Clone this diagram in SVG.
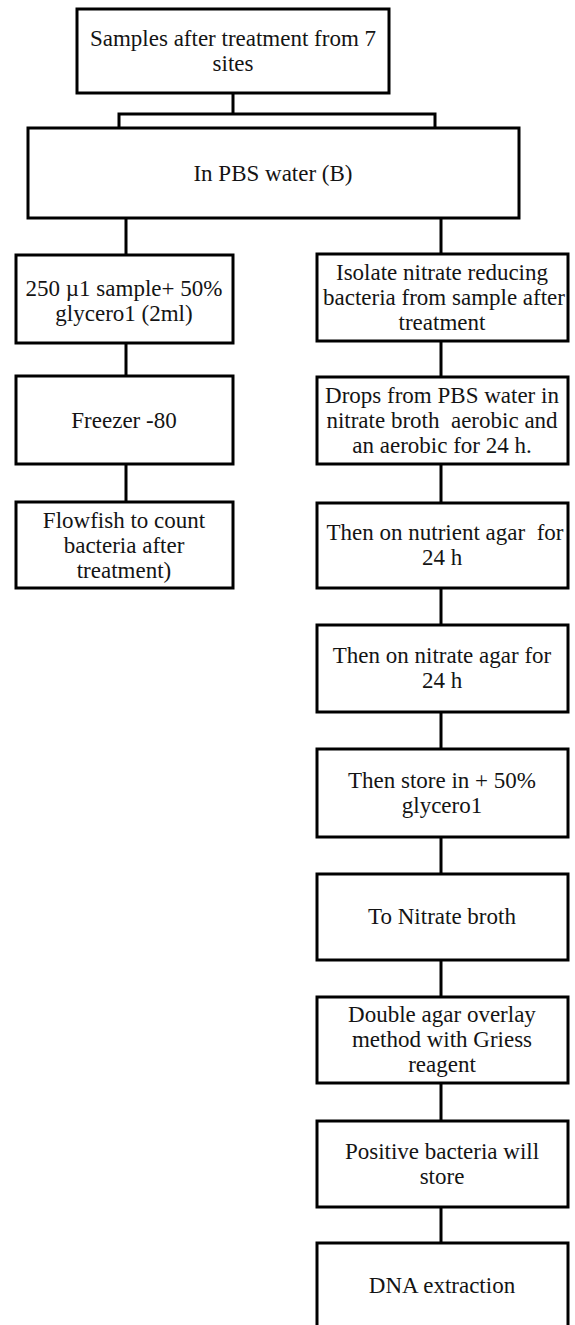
<svg xmlns="http://www.w3.org/2000/svg" width="575" height="1325" viewBox="0 0 575 1325">
<style>
.box{fill:#fff;stroke:#000;stroke-width:3}
.conn{stroke:#000;stroke-width:3;fill:none}
.t{font-family:"Liberation Serif","Times New Roman",serif;font-size:23px;text-anchor:middle;fill:#141414}
</style>
<rect width="575" height="1325" fill="#fff"/>
<g id="connectors">
<path class="conn" d="M233,93V114M119,128V114H435V128"/>
<path class="conn" d="M126,218V255M441,218V254"/>
<path class="conn" d="M126,343V376M126,464V502"/>
<path class="conn" d="M441,341V377M441,464V503M441,588V625M441,712V749M441,837V874M441,960V997M441,1083V1121M441,1207V1243"/>
</g>
<g id="n-samples"><rect class="box" x="77" y="9" width="312" height="84"/>
<text class="t" x="233" y="46">Samples after treatment from 7</text><text class="t" x="233" y="71">sites</text></g>
<g id="n-pbs"><rect class="box" x="28" y="128" width="491" height="90"/>
<text class="t" x="273" y="181">In PBS water (B)</text></g>
<g id="n-glycerol"><rect class="box" x="16" y="255" width="217" height="88"/>
<text class="t" x="124" y="296">250 µ1 sample+ 50%</text><text class="t" x="124" y="321">glycero1 (2ml)</text></g>
<g id="n-freezer"><rect class="box" x="16" y="376" width="217" height="88"/>
<text class="t" x="124" y="428">Freezer -80</text></g>
<g id="n-flowfish"><rect class="box" x="16" y="502" width="217" height="86"/>
<text class="t" x="124" y="528">Flowfish to count</text><text class="t" x="124" y="553">bacteria after</text><text class="t" x="124" y="578">treatment)</text></g>
<g id="n-isolate"><rect class="box" x="317" y="254" width="251" height="87"/>
<text class="t" x="442" y="280">Isolate nitrate reducing</text><text class="t" x="444" y="305">bacteria from sample after</text><text class="t" x="442" y="330">treatment</text></g>
<g id="n-drops"><rect class="box" x="317" y="377" width="251" height="87"/>
<text class="t" x="442" y="403">Drops from PBS water in</text><text class="t" x="442" y="428" xml:space="preserve">nitrate broth  aerobic and</text><text class="t" x="442" y="453">an aerobic for 24 h.</text></g>
<g id="n-nutrient"><rect class="box" x="317" y="503" width="251" height="85"/>
<text class="t" x="445" y="540" xml:space="preserve">Then on nutrient agar  for</text><text class="t" x="442" y="565">24 h</text></g>
<g id="n-nitrate-agar"><rect class="box" x="317" y="625" width="251" height="87"/>
<text class="t" x="442" y="663">Then on nitrate agar for</text><text class="t" x="442" y="688">24 h</text></g>
<g id="n-store"><rect class="box" x="317" y="749" width="251" height="88"/>
<text class="t" x="442" y="788">Then store in + 50%</text><text class="t" x="442" y="813">glycero1</text></g>
<g id="n-broth"><rect class="box" x="317" y="874" width="251" height="86"/>
<text class="t" x="442" y="924">To Nitrate broth</text></g>
<g id="n-double"><rect class="box" x="317" y="997" width="251" height="86"/>
<text class="t" x="442" y="1022">Double agar overlay</text><text class="t" x="442" y="1047">method with Griess</text><text class="t" x="442" y="1072">reagent</text></g>
<g id="n-positive"><rect class="box" x="317" y="1121" width="251" height="86"/>
<text class="t" x="442" y="1159">Positive bacteria will</text><text class="t" x="442" y="1184">store</text></g>
<g id="n-dna"><rect class="box" x="317" y="1243" width="251" height="100"/>
<text class="t" x="442" y="1293">DNA extraction</text></g>
</svg>
